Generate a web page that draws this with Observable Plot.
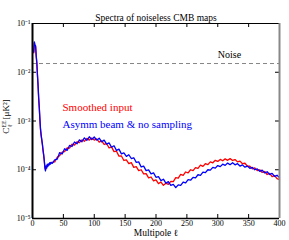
<!DOCTYPE html>
<html><head><meta charset="utf-8">
<script src="https://cdn.jsdelivr.net/npm/d3@7"></script>
<script src="https://cdn.jsdelivr.net/npm/@observablehq/plot@0.6"></script>
<style>body{margin:0;background:#fff}</style></head>
<body>
<script>
// Multipoles
const ells = [2,3,4,5,6,7,8,9,10,11,12,13,14,15,16,17,18,19,20,21,22,23,24,25,26,27,28,29,30,
32,36,40,44,48,52,56,60,64,68,72,76,80,84,88,92,96,100,104,108,112,116,120,124,128,132,136,140,144,148,
152,156,160,164,168,172,176,180,184,188,192,196,200,204,208,212,216,220,224,228,232,236,240,244,248,252,
256,260,264,268,272,276,280,284,288,292,296,300,304,308,312,316,320,324,328,332,336,340,344,348,352,356,
360,364,368,372,376,380,384,388,392,396,400];
// C_l^EE in units of 1e-4 muK^2
const smoothedInput = [250,400,350,340,210,150,88,53,29,18,10.5,6.6,5.0,4.0,3.3,2.5,2.0,1.55,1.1,1.0,1.15,1.12,1.25,1.22,1.28,1.3,1.35,1.36,1.38,
1.42,1.45,1.8,1.95,2.3,2.35,2.8,2.78,3.35,3.2,3.75,3.6,4.1,3.85,4.4,4.05,4.5,4.05,4.3,3.7,3.9,3.3,3.45,2.8,2.95,2.35,2.4,1.9,1.92,1.55,
1.6,1.34,1.4,1.12,1.16,0.96,1.0,0.82,0.83,0.68,0.71,0.59,0.62,0.52,0.56,0.48,0.53,0.5,0.58,0.57,0.69,0.67,0.8,0.77,0.9,0.86,
1.0,0.96,1.11,1.07,1.24,1.17,1.33,1.27,1.45,1.39,1.56,1.48,1.63,1.53,1.67,1.56,1.69,1.55,1.62,1.45,1.5,1.33,1.36,1.18,1.18,1.04,
1.09,0.96,1.0,0.88,0.92,0.8,0.84,0.72,0.76,0.66,0.63];
const asymmBeamNoSampling = [260,420,360,350,220,160,90,55,30,19,11,6.8,5.2,4.2,3.4,2.6,2.1,1.6,1.15,0.95,1.2,1.08,1.3,1.18,1.32,1.25,1.4,1.3,1.42,
1.35,1.6,1.65,2.25,2.1,2.7,2.5,3.15,3.0,3.7,3.4,4.1,3.75,4.5,4.0,4.75,4.15,4.7,4.05,4.45,3.75,4.05,3.35,3.55,2.9,3.1,2.5,2.65,2.12,2.22,
1.88,2.03,1.7,1.76,1.42,1.45,1.14,1.19,0.96,0.99,0.82,0.86,0.7,0.72,0.6,0.64,0.53,0.57,0.48,0.5,0.43,0.49,0.48,0.56,0.54,0.63,
0.61,0.7,0.68,0.79,0.77,0.89,0.87,1.0,0.98,1.12,1.08,1.22,1.16,1.3,1.23,1.37,1.27,1.39,1.26,1.33,1.19,1.26,1.13,1.19,1.07,1.12,
1.0,1.04,0.93,0.98,0.86,0.91,0.8,0.84,0.73,0.77,0.69];
const unit = 1e-4;
const noiseLevel = 0.0151;
const xTicks = [0,50,100,150,200,250,300,350,400];
const xDomain = [0,400];
const yTicks = [1e-5,1e-4,1e-3,1e-2,1e-1];
const yTickLabels = ["10⁻⁵","10⁻⁴","10⁻³","10⁻²","10⁻¹"];
const yDomain = [1e-5,1e-1];

const rows = ells.map((ell,i)=>({ell, red: smoothedInput[i]*unit, blue: asymmBeamNoSampling[i]*unit}));

const W=289,H=240,mL=32,mR=10,mT=23,mB=22;
const fw=W-mL-mR, fh=H-mT-mB;
const serif = "Liberation Serif";

const svg = Plot.plot({
  width:W, height:H, marginLeft:mL, marginRight:mR, marginTop:mT, marginBottom:mB,
  style:{fontFamily:serif, fontSize:"8px", background:"#fff", color:"#000"},
  x:{domain:xDomain},
  y:{type:"log", domain:yDomain},
  marks:[
    Plot.ruleY([noiseLevel],{stroke:"#777", strokeDasharray:"4,3", strokeWidth:0.9}),
    Plot.line(rows,{x:"ell", y:"red", stroke:"#ff0000", strokeWidth:1.3}),
    Plot.line(rows,{x:"ell", y:"blue", stroke:"#0000ff", strokeWidth:1.3}),
    Plot.tickX(xTicks,{x:d=>d, insetTop:fh-4, stroke:"#000"}),
    Plot.tickX(xTicks,{x:d=>d, insetBottom:fh-4, stroke:"#000"}),
    Plot.tickY(yTicks,{y:d=>d, insetLeft:fw-4, stroke:"#000"}),
    Plot.tickY(yTicks,{y:d=>d, insetRight:fw-4, stroke:"#000"}),
    Plot.axisX({ticks:xTicks, tickSize:0, tickPadding:2, label:null, fontSize:8}),
    Plot.axisY({ticks:yTicks, tickSize:0, tickPadding:2, label:null, fontSize:8,
      tickFormat:d=>yTickLabels[yTicks.indexOf(d)]}),
    Plot.ruleY([yDomain[1]],{stroke:"#000", strokeWidth:1}),
    Plot.ruleY([yDomain[0]],{stroke:"#000", strokeWidth:1.5}),
    Plot.ruleX([xDomain[0]],{stroke:"#000", strokeWidth:2}),
    Plot.ruleX([xDomain[1]],{stroke:"#888", strokeWidth:2}),
    Plot.text(["Spectra of noiseless CMB maps"],{frameAnchor:"top", dy:-9, fontSize:9.5, fill:"#000"}),
    Plot.text(["Noise"],{frameAnchor:"top-right", dx:-50, dy:27, fontSize:10, fill:"#000", textAnchor:"middle"}),
    Plot.text(["Smoothed input"],{frameAnchor:"top-left", dx:30, dy:80, fontSize:11, fill:"#ff0000", textAnchor:"start"}),
    Plot.text(["Asymm beam & no sampling"],{frameAnchor:"top-left", dx:30, dy:97, fontSize:11, fill:"#0000ff", textAnchor:"start"}),
    Plot.text(["Multipole ℓ"],{frameAnchor:"bottom", dy:17, fontSize:9.5, fill:"#000"})
  ]
});
document.body.appendChild(svg);

// y-axis label with super/subscripts
const t = d3.select(svg).append("text")
  .attr("transform",`translate(9,${mT+fh/2-4}) rotate(-90)`)
  .attr("text-anchor","middle")
  .attr("font-family",serif).attr("font-size",9).attr("fill","#000");
t.append("tspan").text("C");
t.append("tspan").attr("font-size",6).attr("dy",-3.5).text("EE");
t.append("tspan").attr("font-size",6).attr("dx",-7).attr("dy",6).text("ℓ");
t.append("tspan").attr("dx",5).attr("dy",-2.5).text("[μK²]");
</script>
</body></html>
